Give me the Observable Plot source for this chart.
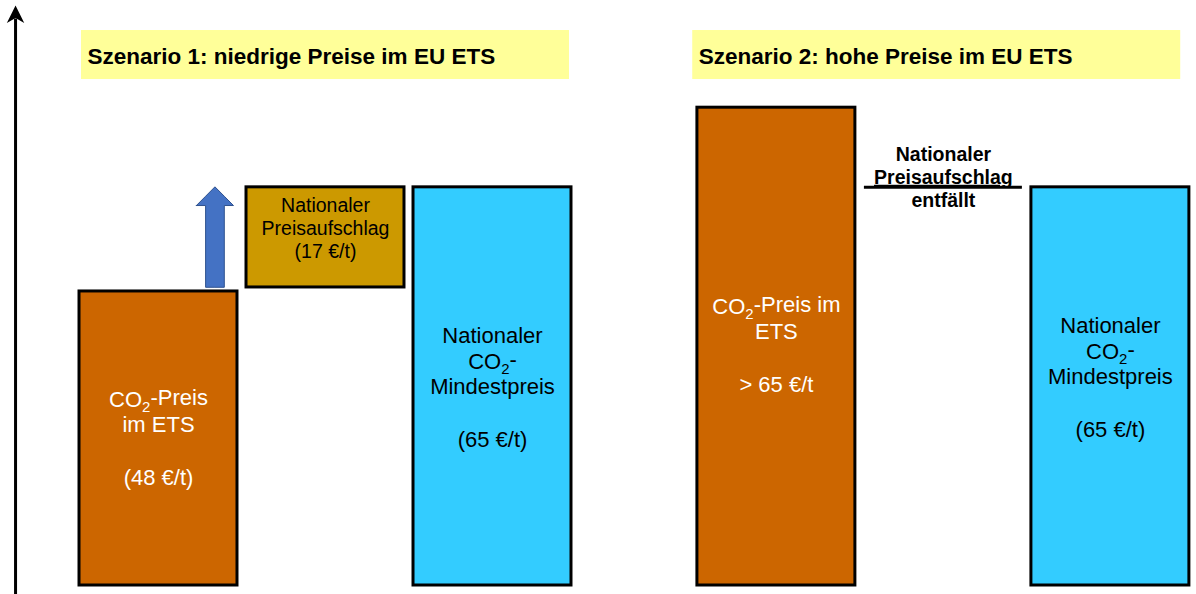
<!DOCTYPE html>
<html>
<head>
<meta charset="utf-8">
<script src="https://cdn.jsdelivr.net/npm/d3@7"></script>
<script src="https://cdn.jsdelivr.net/npm/@observablehq/plot@0.6"></script>
<style>
  html, body { margin: 0; padding: 0; background: #fff; }
  #chart svg { display: block; }
</style>
</head>
<body>
<div id="chart"></div>
<script>
// ---------------- data ----------------
const scenarios = ["Szenario 1: niedrige Preise im EU ETS", "Szenario 2: hohe Preise im EU ETS"];
const components = ["CO₂-Preis im ETS", "Nationaler Preisaufschlag", "Nationaler CO₂-Mindestpreis"];
const componentColors = ["#CC6600", "#CC9900", "#33CCFF"];
const scenario1Values = [48, 17, 65];   // €/t
const scenario2Values = [78, 0, 65];    // ETS > 65 €/t (schematic height), surcharge entfällt
const scenario1Labels = ["CO₂-Preis\nim ETS\n\n(48 €/t)", "Nationaler\nPreisaufschlag\n(17 €/t)", "Nationaler\nCO₂-\nMindestpreis\n\n(65 €/t)"];
const scenario2Labels = ["CO₂-Preis im\nETS\n\n> 65 €/t", "Nationaler\nPreisaufschlag\nentfällt", "Nationaler\nCO₂-\nMindestpreis\n\n(65 €/t)"];

// ---------------- layout ----------------
const W = 1196, H = 594;
const FONT = "'Liberation Sans', Arial, Helvetica, sans-serif";
const pxPerSlot = 167, firstCenterPx = 158;
const xDomain = [-firstCenterPx / pxPerSlot, (W - firstCenterPx) / pxPerSlot];
const yMax = 95.5;
const scenarioOffset = [0, 3.7];
const half = 0.473;
const titleShift = [0, -0.04];
const titleBand = [82.6, 90.6];
const axisX = -0.856;
const labelDy = [[0, -12, 1], [-1, -11, -9]];

// build table
const bars = [];
[scenario1Values, scenario2Values].forEach((vals, s) => {
  const labels = s ? scenario2Labels : scenario1Labels;
  vals.forEach((v, i) => {
    const y1 = i === 1 ? Math.min(vals[0], vals[2]) : 0;
    bars.push({
      s, i,
      scenario: scenarios[s],
      component: components[i],
      slot: scenarioOffset[s] + i,
      y1, y2: y1 + v, value: v,
      label: labels[i],
      dy: labelDy[s][i]
    });
  });
});

const titles = scenarios.map((t, s) => ({
  title: t,
  x1: scenarioOffset[s] - half + titleShift[s],
  x2: scenarioOffset[s] + 2 + half + titleShift[s],
  y1: titleBand[0], y2: titleBand[1]
}));

// blue arrow polygon (from ETS price level to minimum price level)
const s1 = bars.filter(d => d.s === 0);
const tip = s1[2].y2, tail = s1[0].y2 + 0.6, headBase = tip - 3.05;
const ax = 0.341, headHalf = 0.111, shaftHalf = 0.056;
const yt = t => tip - (tip - headBase) * Math.abs(t) / headHalf;
const arrowPts = [
  {x: ax - headHalf, y1: headBase, y2: headBase},
  {x: ax - shaftHalf, y1: headBase, y2: yt(shaftHalf)},
  {x: ax - shaftHalf, y1: tail, y2: yt(shaftHalf)},
  {x: ax, y1: tail, y2: tip},
  {x: ax + shaftHalf, y1: tail, y2: yt(shaftHalf)},
  {x: ax + shaftHalf, y1: headBase, y2: yt(shaftHalf)},
  {x: ax + headHalf, y1: headBase, y2: headBase}
];

const stealth = {
  draw(ctx) {
    ctx.moveTo(0, 0);
    ctx.lineTo(8.7, 17.5);
    ctx.lineTo(0, 12.5);
    ctx.lineTo(-8.7, 17.5);
    ctx.closePath();
  }
};

const solidBars = bars.filter(d => d.value > 0 && d.i !== 1);
const surcharge = bars.filter(d => d.value > 0 && d.i === 1);
const dropped = bars.filter(d => d.value === 0 && d.i === 1);

const labelMarks = bars.map(d => Plot.text([d], {
  x: "slot",
  y: b => b.i === 1 && b.value === 0 ? b.y2 : (b.y1 + b.y2) / 2,
  text: "label",
  fill: d.i === 0 ? "white" : "black",
  fontSize: d.i === 1 ? 19.5 : 22,
  fontWeight: d.i === 1 && d.value === 0 ? "bold" : "normal",
  lineHeight: d.i === 1 ? 1.19 : 1.21,
  lineAnchor: "middle",
  textAnchor: "middle",
  fontFamily: FONT,
  dy: d.dy
}));

const chart = Plot.plot({
  width: W,
  height: H,
  marginLeft: 0, marginRight: 0, marginTop: 0, marginBottom: 9,
  style: {fontFamily: FONT, background: "white", overflow: "visible"},
  x: {domain: xDomain, axis: null},
  y: {domain: [0, yMax], axis: null},
  color: {domain: components, range: componentColors},
  marks: [
    Plot.rect(titles, {x1: "x1", x2: "x2", y1: "y1", y2: "y2", fill: "#FFFF99", insetLeft: 2, insetRight: 2}),
    Plot.text(titles, {x: "x1", y: d => (d.y1 + d.y2) / 2, text: "title", textAnchor: "start", lineAnchor: "middle",
      fontSize: 22.5, fontWeight: "bold", fill: "black", dx: 8, dy: 1.5, fontFamily: FONT}),
    Plot.rect(solidBars, {x1: d => d.slot - half, x2: d => d.slot + half, y1: "y1", y2: "y2",
      fill: "component", stroke: "black", strokeWidth: 3}),
    Plot.rect(surcharge, {x1: d => d.slot - half, x2: d => d.slot + half, y1: "y1", y2: "y2",
      fill: "component", stroke: "black", strokeWidth: 3, insetBottom: 4}),
    Plot.ruleY(dropped, {x1: d => d.slot - half, x2: d => d.slot + half, y: "y2", stroke: "black", strokeWidth: 3}),
    Plot.area(arrowPts, {x1: "x", y1: "y1", y2: "y2", fill: "#4472C4", stroke: "#2F528F", strokeWidth: 1, curve: "linear"}),
    ...labelMarks,
    Plot.ruleX([{x: axisX, y1: -2, y2: 92.5}], {x: "x", y1: "y1", y2: "y2", stroke: "black", strokeWidth: 3}),
    Plot.dot([{x: axisX, y: 94.7}], {x: "x", y: "y", symbol: stealth, fill: "black", stroke: "none", r: 5})
  ]
});

// typographic touches: proper subscript in "CO2" and underlined "Preisaufschlag" (entfällt)
const NS = "http://www.w3.org/2000/svg";
chart.querySelectorAll("tspan").forEach(ts => {
  const t = ts.textContent;
  if (t.includes("CO₂")) {
    const [before, after] = t.split("₂");
    ts.textContent = before;
    const sub = document.createElementNS(NS, "tspan");
    sub.setAttribute("dy", "0.3em");
    sub.setAttribute("font-size", "68%");
    sub.textContent = "2";
    const rest = document.createElementNS(NS, "tspan");
    rest.setAttribute("dy", "-0.3em");
    rest.textContent = after;
    ts.appendChild(sub);
    ts.appendChild(rest);
  }
  if (t === "Preisaufschlag") {
    const txt = ts.closest("text");
    const g = ts.closest("g");
    const w = (txt && txt.getAttribute("font-weight")) || (g && g.getAttribute("font-weight"));
    if (w === "bold") ts.style.textDecoration = "underline";
  }
});

document.getElementById("chart").appendChild(chart);
</script>
</body>
</html>
